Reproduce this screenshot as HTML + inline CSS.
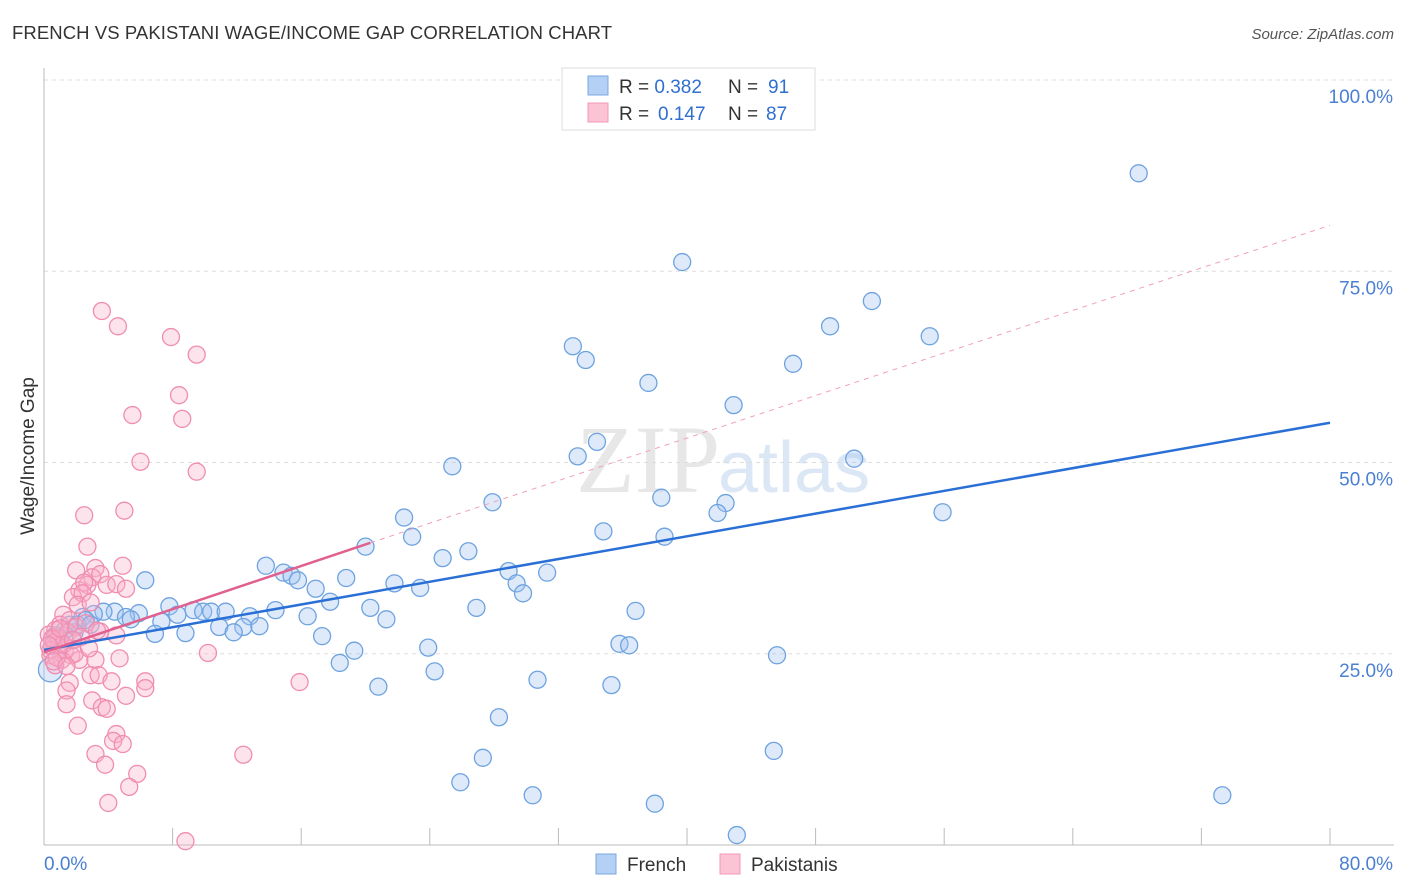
<!DOCTYPE html>
<html><head><meta charset="utf-8">
<style>
body{margin:0;background:#fff;font-family:"Liberation Sans",sans-serif;}
svg{display:block}
</style></head>
<body>
<svg id="chart" width="1406" height="892">
<text x="12" y="39" font-size="18.5" fill="#333" textLength="600">FRENCH VS PAKISTANI WAGE/INCOME GAP CORRELATION CHART</text>
<text x="1394" y="39" font-size="15" fill="#555" font-style="italic" text-anchor="end">Source: ZipAtlas.com</text>
<text transform="translate(34,456) rotate(-90)" font-size="19" fill="#333" text-anchor="middle">Wage/Income Gap</text>
<text x="720" y="492" font-size="96" fill="#d8d8d8" text-anchor="end" font-family="Liberation Serif" opacity="0.6">ZIP</text>
<text x="718" y="492" font-size="72" fill="#c5d8ef" opacity="0.6">atlas</text>
<g id="grid"></g><g id="axes"></g><g id="pts"></g><g id="lines"></g>
<g>
<rect x="562" y="68" width="253" height="62" fill="#fff" stroke="#ddd"/>
<rect x="588" y="76" width="20" height="19" fill="#b4d0f5" stroke="#7aa8e0"/>
<rect x="588" y="103" width="20" height="19" fill="#fbc3d3" stroke="#f09ab5"/>
<text x="619" y="93" font-size="19" fill="#333">R = <tspan fill="#2f6fd0">0.382</tspan><tspan x="728">N = </tspan><tspan x="768" fill="#2f6fd0">91</tspan></text>
<text x="619" y="120" font-size="19" fill="#333">R = <tspan x="658" fill="#2f6fd0">0.147</tspan><tspan x="728">N = </tspan><tspan x="766" fill="#2f6fd0">87</tspan></text>
</g>
<g>
<rect x="596" y="854" width="20" height="20" fill="#b4d0f5" stroke="#7aa8e0"/>
<text x="627" y="871" font-size="19" fill="#333">French</text>
<rect x="720" y="854" width="20" height="20" fill="#fbc3d3" stroke="#f09ab5"/>
<text x="751" y="871" font-size="19" fill="#333">Pakistanis</text>
</g>
</svg>
<script>
const yTicks=[25,50,75,100];
const yTickLabels=["25.0%","50.0%","75.0%","100.0%"];
const xTicks=[0,8,16,24,32,40,48,56,64,72,80];
const frenchX=[68.1,39.7,51.5,48.9,55.1,32.9,33.7,46.6,37.6,42.9,34.4,33.2,50.4,25.4,38.4,42.4,27.9,41.9,55.9,22.4,34.8,22.9,38.6,20.0,26.4,24.8,13.8,28.9,31.3,6.3,14.9,15.4,15.8,18.8,21.8,29.4,16.9,23.4,29.8,17.8,7.8,9.3,26.9,20.3,36.8,9.9,10.4,11.3,14.4,12.8,16.4,5.9,4.4,3.7,3.1,2.4,5.1,5.4,8.3,7.3,21.3,10.9,12.4,13.4,11.8,6.9,8.8,17.3,1.9,35.8,36.4,23.9,19.3,45.6,18.4,24.3,30.7,35.3,20.8,28.3,45.4,27.3,25.9,30.4,73.3,38.0,43.1,0.4,0.5,1.0,1.3,1.6,2.1,2.6,2.9,0.7];
const frenchY=[87.8,76.2,71.1,67.8,66.5,65.2,63.4,62.9,60.4,57.5,52.7,50.8,50.5,49.5,45.4,44.7,44.8,43.4,43.5,42.8,41.0,40.3,40.3,39.0,38.4,37.5,36.5,35.8,35.6,34.6,35.6,35.2,34.6,34.9,34.2,34.2,33.5,33.6,32.9,31.8,31.2,30.7,31.0,31.0,30.6,30.5,30.5,30.5,30.7,29.9,29.9,30.3,30.5,30.5,30.2,29.8,29.8,29.5,30.1,29.2,29.5,28.5,28.5,28.6,27.8,27.6,27.7,27.3,27.8,26.3,26.1,25.8,25.4,24.8,23.8,22.7,21.6,20.9,20.7,16.7,12.3,11.4,8.2,6.5,6.5,5.4,1.3,22.9,26.0,26.8,28.1,28.8,28.8,29.4,28.8,27.4];
const pakX=[3.6,4.6,7.9,9.5,8.4,5.5,8.6,6.0,9.5,5.0,2.5,2.7,2.0,3.2,3.0,2.7,2.2,2.5,4.9,3.5,3.9,4.5,5.1,1.8,2.4,2.1,2.9,1.2,1.0,1.6,0.7,0.5,0.9,1.3,1.7,2.2,1.1,0.4,0.7,3.5,4.5,3.2,4.7,10.2,2.9,3.4,4.2,1.6,1.4,5.1,3.0,6.3,6.3,15.9,1.4,3.6,3.9,2.1,4.5,4.3,4.9,3.2,3.8,5.8,12.4,4.0,5.3,8.8,0.3,0.6,0.9,1.5,2.0,2.6,0.4,0.8,1.2,1.9,2.3,3.3,0.5,1.0,1.8,2.8,0.3,0.6,1.4];
const pakY=[69.8,67.8,66.4,64.1,58.8,56.2,55.7,50.1,48.8,43.7,43.1,39.0,35.9,36.2,35.0,34.0,33.3,34.3,36.5,35.4,34.0,34.1,33.5,32.4,32.9,31.4,31.7,30.1,28.8,29.4,28.1,26.8,26.1,25.5,24.8,24.2,24.2,24.8,23.5,27.9,27.4,24.2,24.4,25.1,22.2,22.2,21.4,21.2,20.2,19.5,18.9,21.4,20.5,21.3,18.4,18.0,17.8,15.6,14.5,13.6,13.2,11.9,10.5,9.3,11.8,5.5,7.6,0.5,27.5,26.5,27.0,27.8,28.5,29.0,25.5,24.5,26.2,25.0,27.2,28.0,27.0,28.3,26.8,25.7,26.1,24.0,23.4];
const frenchTrend=[[0,25.5],[80,55.2]];
const pakTrend=[[0,25.2],[20.3,39.5]];
const pakDash=[[20.3,39.5],[80,81]];
const X=v=>44+v/80*1286, Y=v=>845-v*7.65;
const NS="http://www.w3.org/2000/svg";
function mk(t,a,p){const e=document.createElementNS(NS,t);for(const k in a)e.setAttribute(k,a[k]);p.appendChild(e);return e;}
const grid=document.getElementById('grid'),axes=document.getElementById('axes'),pts=document.getElementById('pts'),lines=document.getElementById('lines');
yTicks.forEach((t,i)=>{const l=mk('line',{x1:44,x2:1394,y1:Y(t),y2:Y(t),stroke:'#ddd','stroke-dasharray':'4,4'},grid);


const tx=mk('text',{x:1393,y:Y(t)+23,'font-size':19,fill:'#4a7fd1','text-anchor':'end'},axes);tx.textContent=yTickLabels[i];

});
const ya=mk('line',{x1:44,x2:44,y1:68,y2:845,stroke:'#bbb'},axes);


const xa=mk('line',{x1:44,x2:1394,y1:845,y2:845,stroke:'#bbb'},axes);


xTicks.forEach(t=>{const l=mk('line',{x1:X(t),x2:X(t),y1:828,y2:845,stroke:'#bbb'},axes);

});
const x0=mk('text',{x:44,y:870,'font-size':19,fill:'#4a7fd1'},axes);x0.textContent='0.0%';


const x1=mk('text',{x:1393,y:870,'font-size':19,fill:'#4a7fd1','text-anchor':'end'},axes);x1.textContent='80.0%';


frenchX.forEach((v,i)=>{const c=mk('circle',{cx:X(v),cy:Y(frenchY[i]),r:i==87?12:8.5,fill:'rgba(160,196,240,0.35)',stroke:'#6ea3e0','stroke-width':1.3},pts);

});
pakX.forEach((v,i)=>{const c=mk('circle',{cx:X(v),cy:Y(pakY[i]),r:8.5,fill:'rgba(248,175,200,0.35)',stroke:'#f08db0','stroke-width':1.3},pts);

});
const d=mk('line',{x1:X(pakDash[0][0]),y1:Y(pakDash[0][1]),x2:X(pakDash[1][0]),y2:Y(pakDash[1][1]),stroke:'#f0a0bb','stroke-dasharray':'5,5','stroke-width':1},lines);


const fl=mk('line',{x1:X(frenchTrend[0][0]),y1:Y(frenchTrend[0][1]),x2:X(frenchTrend[1][0]),y2:Y(frenchTrend[1][1]),stroke:'#2a6fd6','stroke-width':2.5},lines);


const pl=mk('line',{x1:X(pakTrend[0][0]),y1:Y(pakTrend[0][1]),x2:X(pakTrend[1][0]),y2:Y(pakTrend[1][1]),stroke:'#e0608f','stroke-width':2.5},lines);


</script>
</body></html>
